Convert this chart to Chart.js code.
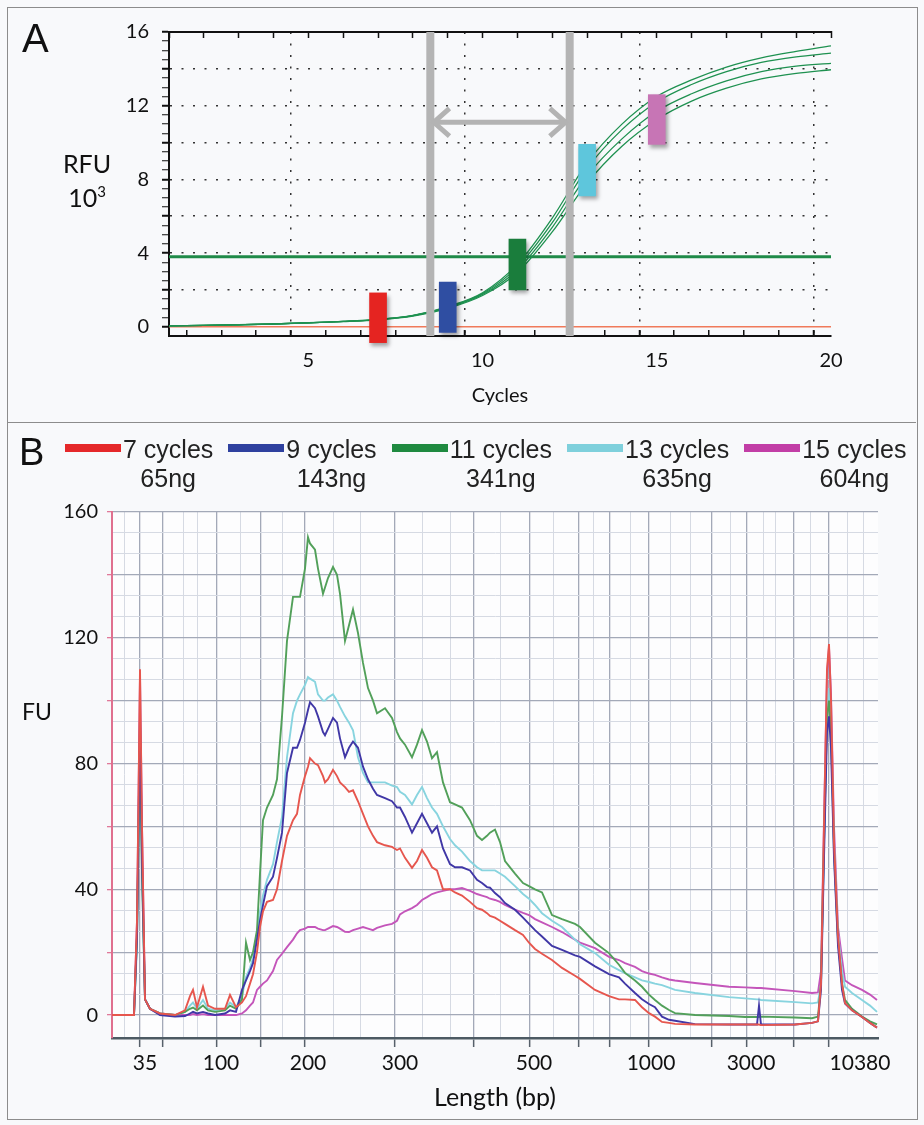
<!DOCTYPE html>
<html>
<head>
<meta charset="utf-8">
<script src="https://cdn.jsdelivr.net/npm/chart.js@4.4.1/dist/chart.umd.min.js"></script>
<style>
  html, body { margin: 0; padding: 0; background: #f8f9fb; }
  #fig { position: relative; width: 924px; height: 1125px; overflow: hidden; font-family: Lato, "Open Sans", sans-serif; color: #111; }
  .frame { position: absolute; border: 1px solid #8c8c8c; }
  .lbl { position: absolute; white-space: nowrap; line-height: 1; }
  .box { position: absolute; left: 0; }
  #legend { position: absolute; left: 65px; top: 435px; display: flex; font-family: "Liberation Sans", Arial, sans-serif; font-size: 25px; color: #222; }
  .item { display: flex; align-items: flex-start; margin-right: 15px; }
  .sw { width: 56px; height: 8px; margin-top: 9px; margin-right: 2px; }
  .txt { text-align: center; line-height: 29px; }
</style>
</head>
<body>
<div id="fig">
  <div class="frame" style="left:7px;top:7px;width:909px;height:1111px;"></div>
  <div class="frame" style="left:7px;top:422px;width:909px;height:0;border-width:1px 0 0 0;"></div>
  <div class="box" style="top:0;"><canvas id="chartA" width="924" height="420"></canvas></div>
  <div class="box" style="top:424px;"><canvas id="chartB" width="924" height="700"></canvas></div>
  <div class="lbl" style="left:22px;top:18px;font-size:40px;font-family:'Liberation Sans',Arial,sans-serif;">A</div>
  <div class="lbl" style="left:47px;top:151px;width:80px;text-align:center;font-size:25px;">RFU</div>
  <div class="lbl" style="left:47px;top:185px;width:80px;text-align:center;font-size:25px;">10<span style="font-size:15px;position:relative;top:-10px;">3</span></div>
  <div class="lbl" style="left:19px;top:433px;font-size:38px;font-family:'Liberation Sans',Arial,sans-serif;">B</div>
  <div class="lbl" style="left:22px;top:700px;font-size:23px;">FU</div>
  <div id="legend"></div>
</div>
<script>
Chart.defaults.font.family = 'Lato, "Open Sans", sans-serif';
Chart.defaults.color = '#111';
Chart.defaults.animation = false;

// ---------- Panel A: qPCR amplification (RFU x 10^3 per cycle) ----------
const cycles = [1, 2, 3, 4, 5, 6, 7, 8, 9, 10, 11, 12, 13, 14, 15, 16, 17, 18, 19, 20];
const rfuRun1 = [0.05, 0.08, 0.11, 0.15, 0.22, 0.29, 0.40, 0.62, 1.10, 1.85, 3.40, 5.90, 8.90, 11.0, 12.5, 13.4, 14.1, 14.6, 14.95, 15.25];
const rfuRun2 = [0.05, 0.08, 0.11, 0.15, 0.22, 0.29, 0.40, 0.61, 1.07, 1.80, 3.25, 5.65, 8.60, 10.7, 12.2, 13.15, 13.85, 14.35, 14.65, 14.85];
const rfuRun3 = [0.05, 0.08, 0.11, 0.15, 0.22, 0.29, 0.39, 0.60, 1.04, 1.75, 3.10, 5.40, 8.20, 10.2, 11.7, 12.65, 13.35, 13.85, 14.15, 14.3];
const rfuRun4 = [0.05, 0.08, 0.11, 0.15, 0.21, 0.28, 0.38, 0.58, 1.00, 1.70, 2.95, 5.15, 7.80, 9.8, 11.25, 12.25, 12.95, 13.45, 13.75, 13.95];
const thresholdRfu = 3.8;
const cutoffCycles = [8.5, 12.5];
const arrowRfu = 11.1;
const sampleCycles = [7, 9, 11, 13, 15];
const sampleLow = [-0.86, -0.3, 2.0, 7.1, 9.9];
const sampleHigh = [1.84, 2.43, 4.76, 9.9, 12.6];

// ---------- Panel B: Bioanalyzer traces (FU vs migration time, s) ----------
const seriesNames = ['7 cycles', '9 cycles', '11 cycles', '13 cycles', '15 cycles'];
const yields = ['65ng', '143ng', '341ng', '635ng', '604ng'];
const seriesColors = ['#e5282a', '#2f419f', '#1f8a40', '#7fd0dc', '#c23ea6'];
const traceColors = ['#e6564e', '#4037a6', '#52a05a', '#88d4df', '#c455ba'];

const migrationTime = [
  40.0, 42.2, 42.5, 42.8, 43.0, 43.3, 43.8, 44.8, 46.3, 47.3,
  47.8, 48.1, 48.5, 49.1, 49.6, 50.3, 51.3, 51.8, 52.4, 53.0,
  53.4, 53.8, 54.1, 54.5, 54.8, 55.1, 55.5, 56.1, 56.5, 57.0,
  57.5, 58.1, 58.5, 58.8, 59.3, 59.6, 59.8, 60.3, 60.6, 61.1,
  61.3, 61.6, 62.1, 62.5, 62.8, 63.3, 63.7, 64.1, 64.6, 65.1,
  65.6, 66.1, 66.5, 67.3, 68.0, 68.5, 68.8, 69.3, 70.0, 70.5,
  71.0, 71.5, 72.0, 72.5, 73.1, 73.8, 74.3, 75.0, 75.8, 76.5,
  77.0, 77.5, 77.8, 78.3, 78.8, 79.3, 80.3, 81.1, 81.7, 82.3,
  83.0, 84.0, 85.0, 86.3, 86.8, 88.3, 89.7, 90.7, 91.3, 92.3,
  93.0, 93.7, 94.3, 95.0, 95.7, 96.3, 98.3, 101.7, 103.3, 104.5,
  104.7, 104.9, 108.3, 110.0, 110.6, 110.9, 111.2, 111.5, 111.7, 111.9,
  112.2, 112.6, 113.0, 113.3, 114.0, 115.0, 115.8, 116.5
];
const fu7 = [
  0, 0, 30, 110, 60, 5, 2, 0.5, 0, 1.5,
  6, 8, 2.5, 9, 3, 2, 2, 6.4, 2.5, 4,
  6, 10, 13, 20, 28, 33, 36, 36.6, 40, 49,
  57, 62, 64, 70, 76, 79, 81.7, 80, 79.5, 76,
  74, 75, 78, 76, 74, 72.5, 71, 71.5, 68, 64,
  60, 57, 55, 54, 53.5, 52.5, 53, 50, 46.8, 49,
  52.5, 50, 47, 46, 40, 40, 39, 38, 36, 34,
  33.5, 32.4, 31.5, 31, 30, 29, 27, 25.5, 23, 21,
  19.5, 17.5, 15, 12.5, 11.5, 8, 6, 5, 5, 4.8,
  2.5, 0.6, -0.5, -2.2, -2.5, -2.8, -3, -3, -3, -3,
  -3, -3.2, -3, -2.5, -2, 10, 60, 110, 118, 100,
  55, 25, 10, 3.8, 1.5, -0.6, -2.5, -4
];
const fu9 = [
  0, 0, 25, 95, 50, 5, 2, 0, -0.5, -0.3,
  0.5, 1, 0.5, 1, 0.5, 0, 0.5, 1.5, 1, 8,
  11, 14, 16.5, 24, 30, 35, 41, 44, 50, 58,
  77, 85, 85, 87.5, 93, 97, 99.5, 97.6, 95, 90,
  89, 91, 94.5, 93, 88, 82, 85, 87, 85, 79,
  75, 72, 70, 69, 68, 66, 66, 63, 58, 61,
  64, 61, 58, 60, 53, 48, 47, 47, 46, 43,
  42, 40.7, 40.5, 38.8, 37.5, 35.6, 33.5, 31, 29, 27,
  25, 22, 20.7, 19, 18.5, 15.5, 13, 12, 10, 7,
  5, 3.5, 2.5, -0.5, -1.5, -1.8, -2.9, -3, -3, -3,
  3, -3, -3, -2.5, -2, 8, 50, 90, 95, 85,
  50, 22, 8, 3.7, 1.5, -0.6, -2.5, -4
];
const fu11 = [
  0, 0, 25, 88, 45, 5, 2, 0.5, 0, 1,
  2, 2.4, 1.5, 3, 1.5, 1, 1.5, 3, 2, 5,
  23, 17.5, 20, 27, 45, 62, 66, 70, 75, 95,
  119, 133, 133, 133, 142, 152, 150, 148, 142, 134,
  136, 139, 142.5, 140, 134, 119, 124, 129, 121.5, 112,
  104, 100, 96, 97.6, 94.5, 90, 88, 86, 82, 86,
  90.6, 87, 81.7, 83.6, 74, 67.7, 67, 66, 62, 57,
  55.7, 57, 58, 59, 55, 49, 45, 42, 41, 40,
  39, 31.8, 30.5, 29, 28, 23, 19.7, 16, 13.4, 11,
  9, 6.5, 4.8, 3, 1.6, 0.6, 0, -0.3, -0.6, -0.6,
  -0.6, -0.5, -0.8, -1, -0.5, 10, 55, 95, 100, 90,
  52, 24, 10, 4.8, 2, -0.5, -2, -3
];
const fu13 = [
  0, 0, 22, 85, 45, 5, 2, 0.5, 0, 1,
  3, 4, 2, 4.8, 2, 1.5, 2, 4, 2.5, 6,
  12, 15, 18, 26, 33, 38, 43, 48, 55, 63,
  82, 96, 100, 102, 105, 107.5, 107, 106, 102, 100,
  100, 101, 102, 100, 98, 95, 93, 90.6, 82, 77,
  74, 74, 74, 74, 73, 72.5, 71, 70, 67, 70,
  72.5, 69, 66, 64, 60, 56, 54, 52, 49, 47,
  46, 46, 46, 46, 45, 44, 41, 38.5, 37, 35,
  32.4, 30, 28, 24, 22.5, 19.7, 16, 14.3, 13.3, 12,
  11, 10.5, 10, 9.5, 8.7, 8, 7, 5.7, 5.3, 5,
  5, 4.8, 4.1, 3.7, 4, 10, 55, 98, 104, 92,
  55, 26, 14, 9, 7, 4.8, 3, 1
];
const fu15 = [
  0, 0, 30, 108, 60, 5, 2, 0.5, 0, 0,
  0, 0.3, 0, 0.3, 0, 0, 0, 0, 0, 0.5,
  1.5, 3, 4, 8, 9, 10, 11, 14, 17.5, 19.5,
  21.6, 24, 26, 27, 27.5, 28, 28, 28, 27.5, 27,
  27, 27.5, 28.3, 28, 27.5, 26.5, 26.4, 27, 27.5, 28,
  27.5, 27, 27.7, 28.5, 29, 30, 32, 33, 34, 35,
  36.6, 37.5, 38.5, 39, 39.5, 40, 40, 40.4, 39.5, 38.5,
  38, 37.5, 37, 36.6, 36, 35, 33.5, 32.5, 31.8, 30.5,
  29.5, 28, 26.4, 24, 23, 21.3, 18.5, 17.5, 16.5, 15.3,
  14, 13.2, 12.8, 12, 11.3, 11, 10.2, 9, 8.8, 8.6,
  8.6, 8.6, 7.6, 7, 7.2, 14, 62, 108, 117, 102,
  60, 28, 18, 11, 9.5, 8, 6.5, 4.8
];
const fuSeries = [fu7, fu9, fu11, fu13, fu15];

// size ladder (bp) and where its labels / grid lines fall on the time axis
const sizeLabels = ['35', '100', '200', '300', '500', '1000', '3000', '10380'];
const sizeLabelTimes = [43.3, 50.9, 59.6, 68.8, 82.2, 93.9, 103.9, 114.8];
const ladderTimes = [42.8, 45.1, 50.5, 54.9, 59.3, 68.3, 76.2, 81.8, 86.7, 89.8, 93.7, 100.0, 103.5, 108.2, 111.7];
const minorTimes = [41.3, 47.1, 48.5, 52.8, 57.0, 62.1, 64.8, 71.0, 73.8, 78.8, 84.1, 88.1, 91.8, 95.8, 97.8, 101.8, 105.1, 106.3, 109.8, 113.5, 115.1];

// ---------- legend (HTML) ----------
const legendEl = document.getElementById('legend');
seriesNames.forEach((name, i) => {
  const item = document.createElement('div');
  item.className = 'item';
  item.innerHTML = '<div class="sw" style="background:' + seriesColors[i] + '"></div>' +
    '<div class="txt">' + name + '<br>' + yields[i] + '</div>';
  legendEl.appendChild(item);
});

// ---------- chart A ----------
const markerShadow = {
  id: 'markerShadow',
  beforeDatasetDraw(chart, args) {
    if (chart.data.datasets[args.index].type !== 'bar') return;
    const c = chart.ctx;
    c.save();
    c.shadowColor = 'rgba(0,0,0,0.35)';
    c.shadowBlur = 4;
    c.shadowOffsetX = 2;
    c.shadowOffsetY = 3;
  },
  afterDatasetDraw(chart, args) {
    if (chart.data.datasets[args.index].type !== 'bar') return;
    chart.ctx.restore();
  }
};

const line = (data, color, width, order, extra) => Object.assign({
  type: 'line', data, borderColor: color, borderWidth: width,
  pointRadius: 0, fill: false, order
}, extra || {});

const headDx = 0.45, headDy = 0.75;
const [cutL, cutR] = cutoffCycles;
const tipL = cutL + 0.1, tipR = cutR - 0.12;
const grey = '#b3b3b3';

new Chart(document.getElementById('chartA'), {
  type: 'line',
  data: {
    datasets: [
      {
        type: 'bar',
        data: sampleCycles.map((c, i) => ({ x: c, y: [sampleLow[i], sampleHigh[i]] })),
        backgroundColor: ['#e52421', '#2f4ea2', '#1a7d3c', '#5ec6dc', '#c775b5'],
        barThickness: 17, clip: false, order: 0
      },
      line([{ x: tipL, y: arrowRfu }, { x: tipR, y: arrowRfu }], grey, 5, 1),
      line([{ x: tipL + headDx, y: arrowRfu + headDy }, { x: tipL, y: arrowRfu }, { x: tipL + headDx, y: arrowRfu - headDy }], grey, 5, 1),
      line([{ x: tipR - headDx, y: arrowRfu + headDy }, { x: tipR, y: arrowRfu }, { x: tipR - headDx, y: arrowRfu - headDy }], grey, 5, 1),
      ...cutoffCycles.map(c => line([{ x: c, y: -0.5 }, { x: c, y: 16 }], '#b4b4b4', 8, 2)),
      ...[rfuRun1, rfuRun2, rfuRun3, rfuRun4].map(run =>
        line(cycles.map((c, i) => ({ x: c, y: run[i] })), '#1e9150', 1.3, 3, { cubicInterpolationMode: 'monotone' })),
      line([{ x: cycles[0], y: thresholdRfu }, { x: cycles[cycles.length - 1], y: thresholdRfu }], '#1f8a48', 3, 4),
      line([{ x: cycles[0], y: 0 }, { x: cycles[cycles.length - 1], y: 0 }], '#f07a5a', 1.5, 5)
    ]
  },
  options: {
    responsive: false,
    layout: { padding: { left: 0, right: 93, top: 32, bottom: 0 } },
    plugins: { legend: { display: false }, tooltip: { enabled: false } },
    scales: {
      x: {
        type: 'linear', min: 1, max: 20, offset: false,
        afterFit: s => { s.height = 84; },
        ticks: { stepSize: 1, autoSkip: false, maxRotation: 0, padding: 19, font: { size: 20 },
          callback: v => (v % 5 === 0 ? String(v) : '') },
        grid: {
          color: c => (c.tick && c.tick.value % 5 === 0 ? '#333' : 'transparent'),
          lineWidth: 1.5, tickLength: -6, tickColor: '#111',
          tickWidth: c => (c.tick && c.tick.value % 5 === 0 ? 2 : 1.5)
        },
        border: { color: '#111', width: 2, dash: [2, 9.5] },
        title: { display: true, text: 'Cycles', font: { size: 20 }, padding: { top: 0, bottom: 12 } }
      },
      xTop: {
        type: 'linear', position: 'top', min: 1, max: 20, offset: false,
        afterFit: s => { s.height = 0; },
        ticks: { stepSize: 1, display: false },
        grid: { drawOnChartArea: false, tickLength: -6, tickColor: '#111', tickWidth: 1.5 },
        border: { color: '#111', width: 2 }
      },
      y: {
        type: 'linear', min: -0.5, max: 16,
        afterFit: s => { s.width = 169; },
        ticks: { stepSize: 0.5, autoSkip: false, padding: 13, font: { size: 20 },
          callback: v => (v >= 0 && v % 4 === 0 ? String(v) : '') },
        grid: {
          color: c => (c.tick && c.tick.value > 0 && c.tick.value < 16 && c.tick.value % 2 === 0 ? '#333' : 'transparent'),
          lineWidth: 1.5, tickLength: 7,
          tickColor: c => (c.tick && c.tick.value < 0 ? 'transparent' : '#111'),
          tickWidth: c => (c.tick && c.tick.value % 2 === 0 ? 2 : 1)
        },
        border: { color: '#111', width: 2, dash: [2, 9.5] }
      }
    }
  },
  plugins: [markerShadow]
});

// ---------- chart B ----------
const plotBg = {
  id: 'plotBg',
  beforeDraw(chart) {
    const { ctx, chartArea: a } = chart;
    ctx.save();
    ctx.fillStyle = '#fdfdfe';
    ctx.fillRect(a.left, a.top, a.right - a.left, a.bottom - a.top);
    ctx.restore();
  }
};

const isMajorFU = v => Math.abs(v / 20 - Math.round(v / 20)) < 1e-6;
const fuGrid = [];
for (let k = 0; k <= 24; k++) fuGrid.push(Math.round(k * 20 / 3 * 1000) / 1000);
const timeTicks = [...ladderTimes, ...minorTimes, ...sizeLabelTimes].sort((a, b) => a - b);

new Chart(document.getElementById('chartB'), {
  type: 'line',
  data: {
    datasets: fuSeries.map((vals, i) => ({
      label: seriesNames[i],
      data: migrationTime.map((t, j) => ({ x: t, y: vals[j] })),
      borderColor: traceColors[i], borderWidth: 1.9, pointRadius: 0, tension: 0
    }))
  },
  options: {
    responsive: false,
    layout: { padding: { left: 0, right: 46, top: 88, bottom: 0 } },
    plugins: { legend: { display: false }, tooltip: { enabled: false } },
    scales: {
      x: {
        type: 'linear', min: 40, max: 116.6, offset: false,
        afterFit: s => { s.height = 86; },
        afterBuildTicks: s => { s.ticks = timeTicks.map(v => ({ value: v })); },
        ticks: { autoSkip: false, maxRotation: 0, padding: 4, font: { size: 21 },
          callback: v => { const k = sizeLabelTimes.indexOf(v); return k >= 0 ? sizeLabels[k] : ''; } },
        grid: {
          color: c => {
            const v = c.tick && c.tick.value;
            if (ladderTimes.includes(v)) return '#a3a9b8';
            if (minorTimes.includes(v)) return '#d6dae3';
            return 'transparent';
          },
          lineWidth: c => (c.tick && ladderTimes.includes(c.tick.value) ? 1.3 : 1),
          tickLength: 9,
          tickColor: c => (c.tick && ladderTimes.includes(c.tick.value) ? '#56606a' : 'transparent'),
          tickWidth: 1.5
        },
        border: { color: '#4d5a63', width: 2.5 },
        title: { display: true, text: 'Length (bp)', font: { size: 25 }, padding: { top: 0, bottom: 11 } }
      },
      y: {
        type: 'linear', min: -7.3, max: 160,
        afterFit: s => { s.width = 112; },
        afterBuildTicks: s => { s.ticks = fuGrid.map(v => ({ value: v })); },
        ticks: { autoSkip: false, padding: 9, font: { size: 20 },
          callback: v => (v % 40 === 0 ? String(v) : '') },
        grid: {
          color: c => (c.tick && isMajorFU(c.tick.value) ? '#a3a9b8' : '#d6dae3'),
          lineWidth: c => (c.tick && isMajorFU(c.tick.value) ? 1.3 : 1),
          tickLength: 5,
          tickColor: c => (c.tick && isMajorFU(c.tick.value) ? '#e0799a' : 'transparent')
        },
        border: { color: '#e0708f', width: 2 }
      }
    }
  },
  plugins: [plotBg]
});
</script>
</body>
</html>
